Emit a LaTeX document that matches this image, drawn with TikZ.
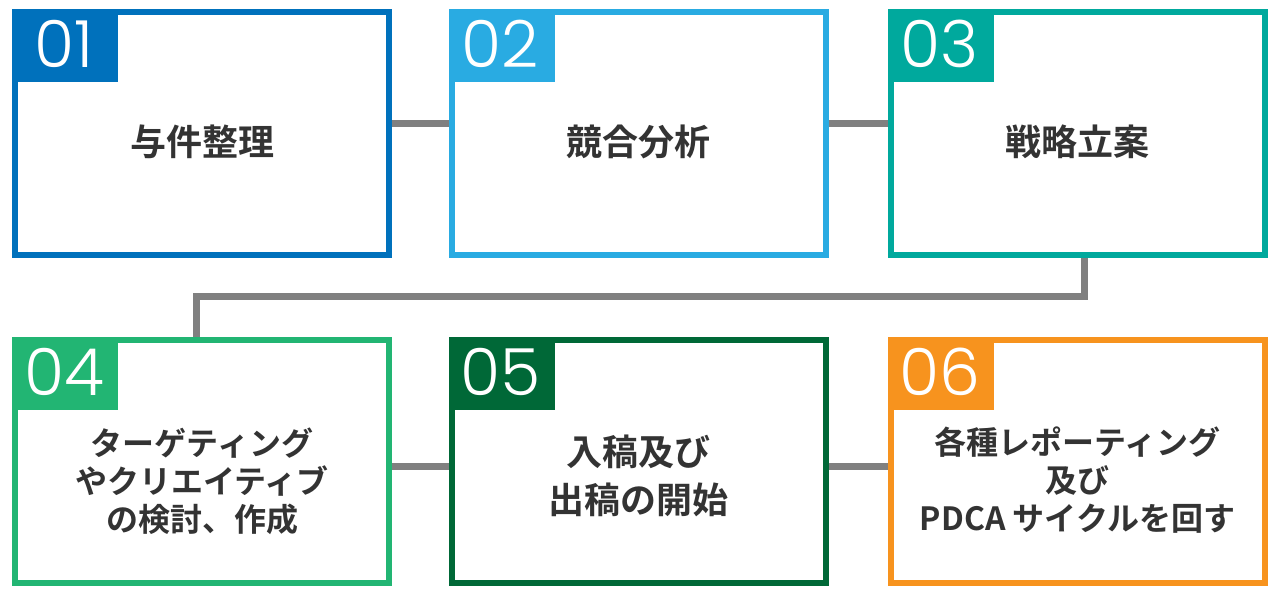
\documentclass[tikz,border=0pt]{standalone}
\usepackage{fontspec}
\newfontfamily\jpfont{Noto Sans CJK JP}[BoldFont={* Bold}]
\IfFontExistsTF{Poppins Light}{\newfontfamily\numfont{Poppins Light}}{\newfontfamily\numfont{Poppins}}
\definecolor{c1}{HTML}{0071BC}
\definecolor{c2}{HTML}{29ABE2}
\definecolor{c3}{HTML}{00A99D}
\definecolor{c4}{HTML}{22B573}
\definecolor{c5}{HTML}{006837}
\definecolor{c6}{HTML}{F7931E}
\definecolor{linegray}{HTML}{808080}
\definecolor{txt}{HTML}{333333}
\begin{document}
\begin{tikzpicture}[x=1pt,y=1pt,
  box/.style={draw=#1, line width=6pt, fill=white, minimum width=374pt, minimum height=243pt, inner sep=0pt},
  conn/.style={draw=linegray, line width=7pt},
  lbl/.style={text=txt, font=\jpfont\bfseries\fontsize{36}{48}\selectfont, align=center, inner sep=0pt},
  lbls/.style={text=txt, font=\jpfont\bfseries\fontsize{32}{38}\selectfont, align=center, inner sep=0pt},
  num/.style={text=white, font=\numfont\fontsize{65}{65}\selectfont, inner sep=0pt, anchor=base}]
\useasboundingbox (0,0) rectangle (1280,596);
% boxes
\node[box=c1] (b1) at (202,462.5) {};
\node[box=c2] (b2) at (638.5,462.5) {};
\node[box=c3] (b3) at (1077.5,462.5) {};
\node[box=c4] (b4) at (202,134.5) {};
\node[box=c5] (b5) at (638.5,134.5) {};
\node[box=c6] (b6) at (1077.5,134.5) {};
% connectors
\draw[conn] ([yshift=9.5pt]b1.east) -- ([yshift=9.5pt]b2.west);
\draw[conn] ([yshift=9.5pt]b2.east) -- ([yshift=9.5pt]b3.west);
\draw[conn] ([xshift=6.5pt]b3.south) -- ++(0,-38.5) -| ([xshift=-6pt]b4.north);
\draw[conn] ([yshift=-5.5pt]b4.east) -- ([yshift=-5.5pt]b5.west);
\draw[conn] ([yshift=-5.5pt]b5.east) -- ([yshift=-5.5pt]b6.west);
% tags
\foreach \i in {1,...,6}{
  \fill[c\i] (b\i.north west) rectangle ++(106,-73);
}
\node[num] (n1) at ([xshift=52pt,yshift=-59pt]b1.north west) {01};
\node[num] (n2) at ([xshift=52pt,yshift=-59pt]b2.north west) {02};
\node[num] (n3) at ([xshift=52pt,yshift=-59pt]b3.north west) {03};
\node[num] (n4) at ([xshift=52pt,yshift=-59pt]b4.north west) {04};
\node[num] (n5) at ([xshift=52pt,yshift=-59pt]b5.north west) {05};
\node[num] (n6) at ([xshift=52pt,yshift=-59pt]b6.north west) {06};
% labels
\node[lbl] (t1) at ([yshift=-8.5pt]b1.center) {与件整理};
\node[lbl] (t2) at ([yshift=-8.5pt]b2.center) {競合分析};
\node[lbl] (t3) at ([yshift=-8.5pt]b3.center) {戦略立案};
\node[lbls] (t4) at ([yshift=-19.5pt]b4.center) {ターゲティング\\やクリエイティブ\\の検討、作成};
\node[lbl] (t5) at ([yshift=-14.5pt]b5.center) {入稿及び\\出稿の開始};
\node[lbls] (t6) at ([yshift=-18.5pt]b6.center) {各種レポーティング\\及び\\PDCA サイクルを回す};
\end{tikzpicture}
\end{document}
